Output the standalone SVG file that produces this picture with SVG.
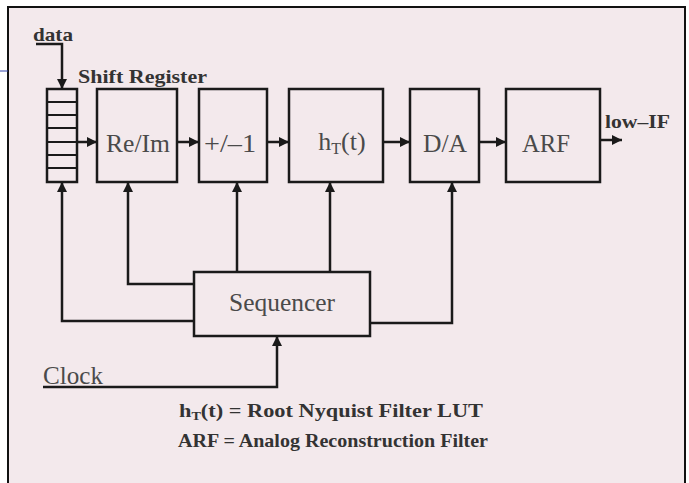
<svg xmlns="http://www.w3.org/2000/svg" width="689" height="483" viewBox="0 0 689 483">
<style>
.box{fill:none;stroke:#1a1a1a;stroke-width:2.5}
.ln{fill:none;stroke:#1a1a1a;stroke-width:2.5}
.cell{stroke:#1a1a1a;stroke-width:2}
.lbl{font-family:"Liberation Serif",serif;font-size:26px;fill:#4a4a4a;text-anchor:middle}
.bold{font-family:"Liberation Serif",serif;font-weight:bold;font-size:19px;fill:#333}
</style>
<defs>
<marker id="ah" viewBox="0 0 10 10" refX="10" refY="5" markerWidth="4.5" markerHeight="4" orient="auto" markerUnits="strokeWidth">
<path d="M0,0 L10,5 L0,10 Z" fill="#1a1a1a"/>
</marker>
</defs>
<rect x="0" y="0" width="689" height="483" fill="#ffffff"/>
<rect x="8" y="7" width="677" height="480" fill="#f3e9ec" stroke="#111" stroke-width="2"/>
<line x1="0" y1="71" x2="8" y2="71" stroke="#3344aa" stroke-width="1"/>

<g id="connectors">
<polyline class="ln" points="36,44 62,44 62,89" marker-end="url(#ah)"/>
<line class="ln" x1="77" y1="142" x2="97" y2="142" marker-end="url(#ah)"/>
<line class="ln" x1="177" y1="142" x2="199" y2="142" marker-end="url(#ah)"/>
<line class="ln" x1="267" y1="142" x2="289" y2="142" marker-end="url(#ah)"/>
<line class="ln" x1="383" y1="142" x2="410" y2="142" marker-end="url(#ah)"/>
<line class="ln" x1="479" y1="142" x2="506" y2="142" marker-end="url(#ah)"/>
<line class="ln" x1="600" y1="140" x2="622" y2="140" marker-end="url(#ah)"/>
<polyline class="ln" points="194,321 62,321 62,182" marker-end="url(#ah)"/>
<polyline class="ln" points="194,284 128,284 128,182" marker-end="url(#ah)"/>
<line class="ln" x1="237" y1="272" x2="237" y2="182" marker-end="url(#ah)"/>
<line class="ln" x1="330" y1="272" x2="330" y2="182" marker-end="url(#ah)"/>
<polyline class="ln" points="370,323 452,323 452,182" marker-end="url(#ah)"/>
<polyline class="ln" points="43,387 277,387 277,336" marker-end="url(#ah)"/>
</g>

<g id="data">
<text class="bold" x="33" y="41" textLength="40" lengthAdjust="spacingAndGlyphs">data</text>
</g>

<g id="shift-register">
<rect class="box" x="47" y="89" width="30" height="93"/>
<line class="cell" x1="47" y1="102" x2="77" y2="102"/>
<line class="cell" x1="47" y1="115" x2="77" y2="115"/>
<line class="cell" x1="47" y1="128" x2="77" y2="128"/>
<line class="cell" x1="47" y1="142" x2="77" y2="142"/>
<line class="cell" x1="47" y1="155" x2="77" y2="155"/>
<line class="cell" x1="47" y1="168" x2="77" y2="168"/>
<text class="bold" x="78" y="83" textLength="129" lengthAdjust="spacingAndGlyphs">Shift Register</text>
</g>

<g id="reim">
<rect class="box" x="97" y="89" width="80" height="93"/>
<text class="lbl" x="138" y="152" textLength="64" lengthAdjust="spacingAndGlyphs">Re/Im</text>
</g>

<g id="sign">
<rect class="box" x="199" y="89" width="68" height="93"/>
<text class="lbl" x="230" y="152" textLength="52" lengthAdjust="spacingAndGlyphs">+/–1</text>
</g>

<g id="filter">
<rect class="box" x="289" y="89" width="94" height="93"/>
<text class="lbl" x="342" y="150">h<tspan font-size="16" dy="4">T</tspan><tspan dy="-4">(t)</tspan></text>
</g>

<g id="da">
<rect class="box" x="410" y="89" width="69" height="93"/>
<text class="lbl" x="445" y="152" textLength="44" lengthAdjust="spacingAndGlyphs">D/A</text>
</g>

<g id="arf">
<rect class="box" x="506" y="89" width="94" height="93"/>
<text class="lbl" x="546" y="152" textLength="48" lengthAdjust="spacingAndGlyphs">ARF</text>
</g>

<g id="lowif">
<text class="bold" x="605" y="128" textLength="65" lengthAdjust="spacingAndGlyphs">low–IF</text>
</g>

<g id="sequencer">
<rect class="box" x="194" y="272" width="176" height="64"/>
<text class="lbl" x="282" y="311" textLength="106" lengthAdjust="spacingAndGlyphs">Sequencer</text>
</g>

<g id="clock">
<text class="lbl" x="43" y="384" style="text-anchor:start" textLength="60" lengthAdjust="spacingAndGlyphs">Clock</text>
</g>

<g id="legend">
<text class="bold" x="179" y="417" textLength="304" lengthAdjust="spacingAndGlyphs">h<tspan font-size="12" dy="3">T</tspan><tspan dy="-3">(t) = Root Nyquist Filter LUT</tspan></text>
<text class="bold" x="178" y="447" textLength="310" lengthAdjust="spacingAndGlyphs">ARF = Analog Reconstruction Filter</text>
</g>
</svg>
